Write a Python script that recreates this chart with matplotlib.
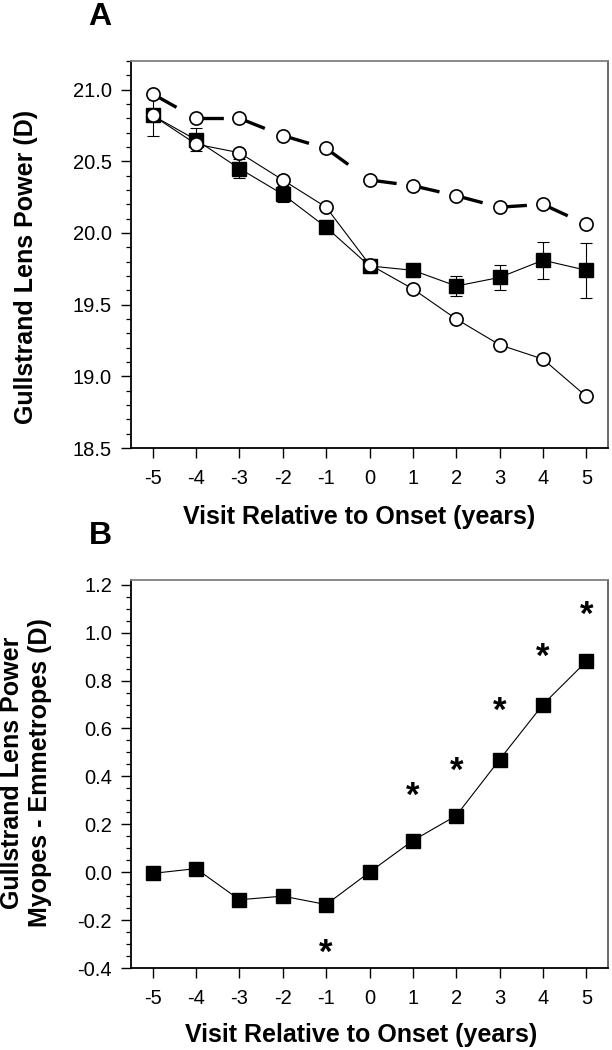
import numpy as np
import matplotlib
matplotlib.use("Agg")
import matplotlib.pyplot as plt
from matplotlib.ticker import MultipleLocator, FormatStrFormatter

plt.rcParams['font.family'] = ['Liberation Sans', 'DejaVu Sans']

visits = [-5, -4, -3, -2, -1, 0, 1, 2, 3, 4, 5]
visit_labels = [str(v) for v in visits]

# panel A
emm_dashed = [20.97, 20.80, 20.80, 20.68, 20.59, 20.37, 20.33, 20.26, 20.18, 20.20, 20.06]
emm_thin = [20.82, 20.62, 20.56, 20.37, 20.18, 19.78, 19.61, 19.40, 19.22, 19.12, 18.86]
myopes = [20.82, 20.65, 20.45, 20.27, 20.04, 19.77, 19.74, 19.63, 19.69, 19.81, 19.74]
myopes_err = [0.14, 0.08, 0.065, 0.055, 0.04, 0.05, 0.045, 0.07, 0.09, 0.13, 0.19]

# panel B
diff = [-0.005, 0.015, -0.115, -0.10, -0.135, 0.00, 0.132, 0.236, 0.47, 0.70, 0.88]
star_x = [-1, 1, 2, 3, 4, 5]
star_y = [-0.3375, 0.318, 0.423, 0.673, 0.896, 1.072]

W, H = 612, 1050
fig = plt.figure(figsize=(W / 100, H / 100), dpi=100)

ax_left = 131 / W
ax_w = 477 / W
axA = fig.add_axes([ax_left, 1 - 448 / H, ax_w, 387 / H])
axB = fig.add_axes([ax_left, 1 - 968 / H, ax_w, 388 / H])


def style_axes(ax):
    ax.set_xlim(-5.5, 5.5)
    ax.set_xticks(visits)
    ax.set_xticklabels(visit_labels)
    ax.spines['left'].set_linewidth(1.3)
    ax.spines['bottom'].set_linewidth(1.3)
    ax.spines['top'].set_color('#808080')
    ax.spines['top'].set_linewidth(1.3)
    ax.spines['right'].set_color('#404040')
    ax.spines['right'].set_linewidth(1.1)
    ax.tick_params(axis='x', which='major', direction='out', length=7.5, width=1.0,
                   pad=7.5, labelsize=14.5, top=False)
    ax.tick_params(axis='y', which='major', direction='out', length=7.2, width=1.0,
                   pad=6.5, labelsize=14.5, right=False)
    ax.tick_params(axis='y', which='minor', direction='out', length=3.5, width=0.9,
                   right=False)
    ax.tick_params(axis='x', which='minor', bottom=False, top=False)
    ax.yaxis.set_major_formatter(FormatStrFormatter('%.1f'))


# ---- panel A
lw_dash = 2.4
for i in range(len(visits) - 1):
    axA.plot(visits[i:i + 2], emm_dashed[i:i + 2], color='black', lw=lw_dash,
             linestyle=(0, (8.2, 40)), dash_capstyle='butt', zorder=2)
axA.plot(visits, emm_dashed, linestyle='none', marker='o', ms=9.5, mfc='white',
         mec='black', mew=1.2, zorder=5)

axA.errorbar(visits, myopes, yerr=myopes_err, fmt='none', ecolor='black',
             elinewidth=0.8, capsize=4.2, capthick=0.8, zorder=3)
axA.plot(visits, myopes, color='black', lw=0.8, marker='s', ms=10, mfc='black',
         mec='black', zorder=3)
axA.plot(visits, emm_thin, color='black', lw=0.8, marker='o', ms=9.5, mfc='white',
         mec='black', mew=1.2, zorder=4)

axA.set_ylim(18.5, 21.2)
axA.yaxis.set_major_locator(MultipleLocator(0.5))
axA.yaxis.set_minor_locator(MultipleLocator(0.1))
style_axes(axA)

# ---- panel B
axB.plot(visits, diff, color='black', lw=0.8, marker='s', ms=10, mfc='black',
         mec='black', zorder=3)
for sx, sy in zip(star_x, star_y):
    axB.text(sx, sy, '*', ha='center', va='center', fontsize=25, fontweight='bold')

axB.set_ylim(-0.4, 1.22)
axB.yaxis.set_major_locator(MultipleLocator(0.2))
axB.yaxis.set_minor_locator(MultipleLocator(0.05))
style_axes(axB)

# ---- text
lab = dict(fontsize=18, fontweight='bold', ha='center', va='center')
fig.text(100 / W, 1 - 17 / H, 'A', fontsize=23, fontweight='bold', ha='center', va='center')
fig.text(100 / W, 1 - 536 / H, 'B', fontsize=23, fontweight='bold', ha='center', va='center')
fig.text(359 / W, 1 - 517 / H, 'Visit Relative to Onset (years)', **lab)
fig.text(361 / W, 1 - 1035 / H, 'Visit Relative to Onset (years)', **lab)
fig.text(26 / W, 1 - 267 / H, 'Gullstrand Lens Power (D)', rotation=90, **lab)
fig.text(26 / W, 1 - 773 / H, 'Gullstrand Lens Power\nMyopes - Emmetropes (D)',
         rotation=90, multialignment='center', linespacing=1.2, **lab)

fig.savefig('out.png', dpi=100)
